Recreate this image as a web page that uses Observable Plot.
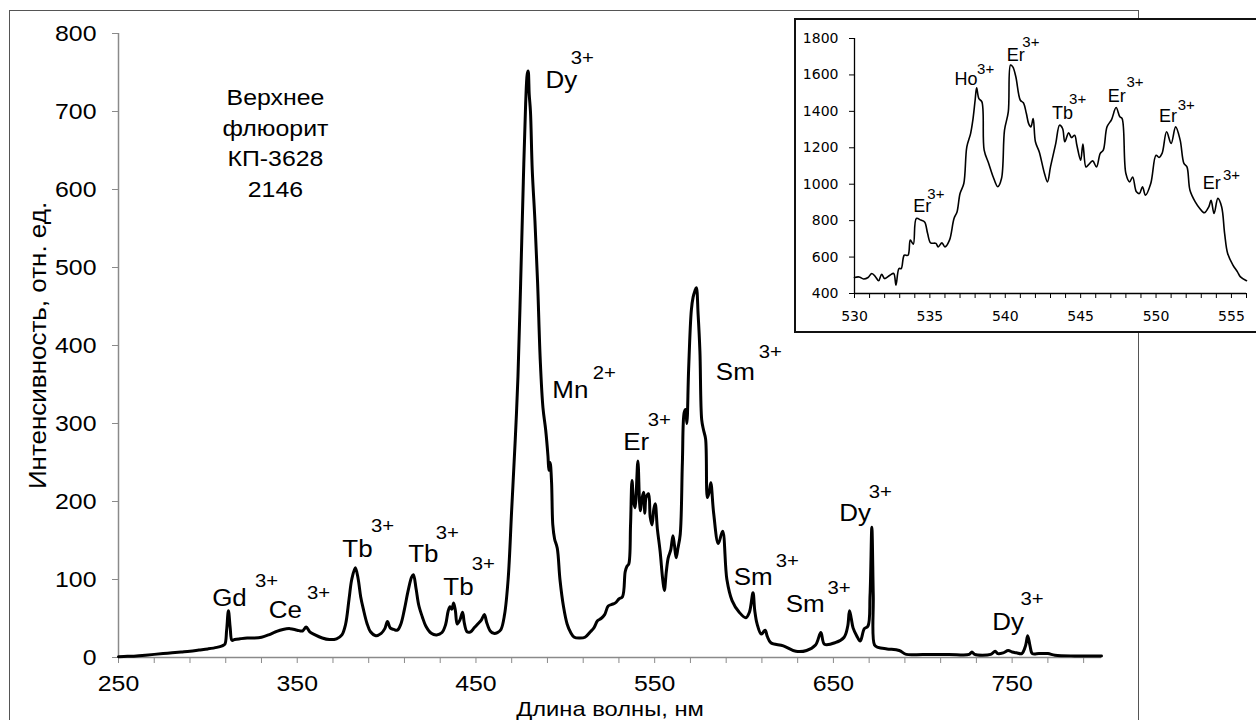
<!DOCTYPE html>
<html>
<head>
<meta charset="utf-8">
<script src="https://cdn.jsdelivr.net/npm/d3@7"></script>
<script src="https://cdn.jsdelivr.net/npm/@observablehq/plot@0.6"></script>
<style>
  html, body { margin: 0; padding: 0; background: #fff; overflow: hidden; }
  #wrap { position: relative; width: 1256px; height: 720px; overflow: hidden; background: #fff; }
  #frame { position: absolute; left: 9px; top: 10px; width: 1128px; height: 800px; border: 1.5px solid #555; border-bottom: none; }
  #main { position: absolute; left: 0; top: 0; }
  #inset { position: absolute; left: 794px; top: 18px; width: 480px; height: 311px; border: 2px solid #111; background: #fff; }
  svg { overflow: visible; }
</style>
</head>
<body>
<div id="wrap">
  <div id="frame"></div>
  <div id="main"></div>
  <div id="inset"></div>
</div>
<script>
// ---------- Main spectrum (wavelength, nm / intensity, rel. units) ----------
const mainNm = [250,255,260,265,270,275,280,285,290,295,300,305,308,309.5,310.5,311.5,312.5,313.5,315,318,322,326,330,334,338,342,346,350,353,355,357,360,364,368,372,375,377,379,380.5,382.5,384,385.5,387,389,391,394,397,399,400.5,402,404,406,408,410,412,414,415,416.5,418,420,422,425,428,431,433,434.5,435.5,436.5,437.5,438.5,439.5,441,442.5,443.5,445,447,449,451,453,454.7,456,458,460,462,464,466,468,470,472,473.5,475,476.5,477.8,478.7,479.2,479.8,480.5,481.5,483,484.5,486,487.5,489,490.3,490.8,491.5,492.3,493,494,495.5,497,499,501,503,505,508,511,514,516,518,520,522,524,526,528,530,532,533.5,534.5,535.5,536.5,537.3,538.2,539,540.6,541.5,542,543,543.8,544.5,545.2,546.6,547.5,548.5,549.5,550.3,551.5,553,554.5,555.4,556.5,557.6,559,560.2,561,562,563,564.3,565.5,566.5,567.3,568,569,570.5,571.5,572.5,573.3,574.3,575.3,576.3,577.3,578.5,579.5,580.5,581.4,583,585.6,588,590.4,593.3,597.3,601,603,605,606,607.3,609.6,611.8,613,615,622,629,635,640,643,645,651,656,658,659,660,661,663,665,667.3,669.3,670.5,671.5,672.3,673,675,680,686.8,690.8,700,714.6,726,727.5,729,738,740.5,742,745,747.8,750,752.4,755.4,757.5,758.7,760,761.3,765,770,774,785,800];
const mainI  = [1,1.5,2,3,4,5,6,7,8,9.5,11,13,15,17,35,60,38,22,23,24,25,25,26,29,33,36,37,35,34,39,33,29,25,23,24,29,42,75,100,115,102,78,62,44,33,28,31,37,46,38,36,35,43,62,85,103,106,88,67,52,40,31,29,32,42,60,65,62,70,60,43,48,58,44,33,33,38,43,48,55,45,34,31,32,36,55,100,190,280,360,480,610,710,748,752,722,700,625,560,480,380,320,292,258,240,250,225,170,152,140,100,65,43,32,26,25,26,33,38,47,50,55,66,68,70,75,78,110,117,120,170,227,200,192,252,200,188,205,212,185,205,210,180,170,190,197,165,137,100,86,110,128,138,156,145,128,140,158,250,314,318,300,370,445,462,470,474,440,393,305,292,280,205,212,224,185,146,162,100,73,58,51,58,83,60,43,30,35,27,19,15,8,9,16,32,17,19,26,40,60,50,38,28,21,37,40,80,167,80,16,13,11,9,4,4,4,4,7,4,4,8,5,6,9,7,6,5,15,28,15,5,5,5,3,2,2];

// main axis ticks
const mainXTicks = d3.range(250, 800, 20);
const mainXLabels = [250, 350, 450, 550, 650, 750];
const mainYTicks = [0, 100, 200, 300, 400, 500, 600, 700, 800];

// ion labels on main plot (element + charge), positions in data units
const ionName  = ["Gd","Ce","Tb","Tb","Tb","Dy","Mn","Er","Sm","Sm","Sm","Dy","Dy"];
const ionNameX = [312.1,343.4,383.7,420.6,440.2,497.8,502.8,539.7,595.1,605.1,634.2,662.2,747.8];
const ionNameY = [75,60,138,132,89,739,342,275,365,102,68,184,45];
const ionCharge  = ["3+","3+","3+","3+","3+","3+","2+","3+","3+","3+","3+","3+","3+"];
const ionChargeX = [332.8,361.9,397.7,434.0,454.1,509.5,521.8,552.6,614.7,624.2,653.2,676.2,761.2];
const ionChargeY = [98,82,168,159,120,768,364,304,391,124,89,212,75];

const sampleText = "Верхнее\nфлюорит\nКП-3628\n2146";
const sampleX = 337.8, sampleY = 662;
const xTitle = "Длина волны, нм";
const yTitle = "Интенсивность, отн. ед.";

// ---------- Inset (530–556 nm) ----------
const insetNm = [530,530.3,530.6,530.9,531.15,531.4,531.6,531.8,532.0,532.35,532.6,532.75,532.95,533.1,533.3,533.55,533.7,533.9,534.1,534.4,534.65,534.85,535.05,535.4,535.55,535.8,536.0,536.3,536.6,536.8,537.0,537.25,537.45,537.7,537.85,538.0,538.1,538.25,538.45,538.6,538.9,539.2,539.5,539.75,539.95,540.2,540.35,540.5,540.7,541.0,541.2,541.4,541.55,541.7,541.85,542.0,542.25,542.6,542.8,543.0,543.35,543.6,543.8,543.95,544.2,544.4,544.6,544.75,545.0,545.15,545.35,545.5,545.8,546.05,546.3,546.5,546.75,547.05,547.35,547.6,547.75,548.0,548.25,548.45,548.7,548.9,549.1,549.3,549.65,550.0,550.2,550.4,550.7,551.0,551.3,551.6,551.85,552.05,552.25,552.6,552.9,553.2,553.5,553.65,553.85,554.1,554.35,554.55,554.75,555.1,555.4,555.6,556];
const insetI  = [488,491,480,488,510,491,470,506,482,500,510,446,537,537,610,610,693,671,812,803,793,729,678,675,656,678,656,693,812,848,949,1004,1205,1278,1352,1461,1529,1470,1452,1187,1114,1040,986,1031,1297,1397,1654,1644,1590,1461,1447,1388,1333,1315,1360,1233,1178,1059,1013,1095,1224,1324,1306,1233,1282,1256,1269,1214,1132,1220,1095,1105,1128,1095,1169,1187,1315,1355,1421,1370,1360,1059,1013,1040,958,949,986,940,1004,1159,1147,1169,1288,1224,1315,1242,1114,1095,967,903,867,843,876,912,839,922,876,729,620,556,519,491,470];
const insetXTicks = d3.range(530, 557, 1);
const insetXLabels = [530, 535, 540, 545, 550, 555];
const insetYTicks = [400, 600, 800, 1000, 1200, 1400, 1600, 1800];

const inIonName  = ["Er","Ho","Er","Tb","Er","Er","Er"];
const inIonNameX = [534.5,537.4,540.7,543.8,547.4,550.8,553.7];
const inIonNameY = [878,1575,1707,1388,1482,1372,1004];
const inIonCharge  = ["3+","3+","3+","3+","3+","3+","3+"];
const inIonChargeX = [535.4,538.7,541.7,544.8,548.6,552.0,555.0];
const inIonChargeY = [944,1630,1778,1465,1559,1432,1048];

const FONT = "'Liberation Sans', Arial, sans-serif";

// widen glyphs horizontally about each text's own anchor (the reference text is slightly stretched)
function stretchText(svg, sx) {
  svg.querySelectorAll("text").forEach(t => {
    const xa = t.getAttribute("x");
    const xn = xa == null ? 0 : parseFloat(xa);
    if (!isFinite(xn)) return;
    const tr = t.getAttribute("transform") || "";
    t.setAttribute("transform", `${tr} translate(${xn},0) scale(${sx},1) translate(${-xn},0)`.trim());
  });
}

const main = Plot.plot({
  width: 1256, height: 720,
  marginLeft: 118, marginRight: 155, marginTop: 33, marginBottom: 63,
  style: { fontFamily: FONT, fontSize: "22px", background: "transparent", color: "#000" },
  x: { domain: [250, 800] },
  y: { domain: [0, 800] },
  marks: [
    Plot.ruleY([0], { stroke: "#8a8a8a", strokeWidth: 1.5 }),
    Plot.ruleX([250], { stroke: "#8a8a8a", strokeWidth: 1.5 }),
    Plot.axisX({ ticks: mainXTicks, tickSize: 6, tickFormat: () => "", stroke: "#8a8a8a", label: null }),
    Plot.axisX({ ticks: mainXLabels, tickSize: 0, tickPadding: 18, fontSize: 22, fill: "#000", label: null }),
    Plot.axisY({ ticks: mainYTicks, tickSize: 6, tickPadding: 16, fontSize: 22, stroke: "#8a8a8a", fill: "#000", label: null }),
    Plot.line(mainNm, { x: mainNm, y: mainI, stroke: "#000", strokeWidth: 3, curve: "catmull-rom" }),
    Plot.text(ionName, { x: ionNameX, y: ionNameY, text: ionName, fontSize: 23, fill: "#000" }),
    Plot.text(ionCharge, { x: ionChargeX, y: ionChargeY, text: ionCharge, fontSize: 18, fill: "#000" }),
    Plot.text([sampleText], { x: sampleX, y: sampleY, text: d => d, fontSize: 22, lineHeight: 1.4, fill: "#000" }),
    Plot.text([xTitle], { frameAnchor: "bottom", dy: 52, lineAnchor: "middle", textAnchor: "middle", text: d => d, fontSize: 21, fill: "#000" }),
    Plot.text([yTitle], { frameAnchor: "left", dx: -80, rotate: -90, textAnchor: "middle", lineAnchor: "middle", text: d => d, fontSize: 23, fill: "#000" })
  ]
});
stretchText(main, 1.13);
document.getElementById("main").appendChild(main);

const inset = Plot.plot({
  width: 461, height: 311,
  marginLeft: 58, marginRight: 11, marginTop: 18, marginBottom: 38,
  style: { fontFamily: "'DejaVu Sans', Verdana, sans-serif", fontSize: "14px", background: "transparent", color: "#000" },
  x: { domain: [530, 556] },
  y: { domain: [400, 1800] },
  marks: [
    Plot.ruleY([400], { stroke: "#000", strokeWidth: 1.3 }),
    Plot.ruleX([530], { stroke: "#000", strokeWidth: 1.3 }),
    Plot.axisX({ ticks: insetXTicks, tickSize: 5, tickFormat: () => "", stroke: "#000", label: null }),
    Plot.axisX({ ticks: insetXLabels, tickSize: 0, tickPadding: 18, tickFormat: d3.format("d"), fontSize: 14, fill: "#000", label: null }),
    Plot.axisY({ ticks: insetYTicks, tickSize: 5, tickPadding: 11, tickFormat: d3.format("d"), fontSize: 14, stroke: "#000", fill: "#000", label: null }),
    Plot.line(insetNm, { x: insetNm, y: insetI, stroke: "#000", strokeWidth: 1.6, curve: "catmull-rom" }),
    Plot.text(inIonName, { x: inIonNameX, y: inIonNameY, text: inIonName, fontSize: 18, fontFamily: FONT, fill: "#000" }),
    Plot.text(inIonCharge, { x: inIonChargeX, y: inIonChargeY, text: inIonCharge, fontSize: 15, fontFamily: FONT, fill: "#000" })
  ]
});
document.getElementById("inset").appendChild(inset);
</script>
</body>
</html>
